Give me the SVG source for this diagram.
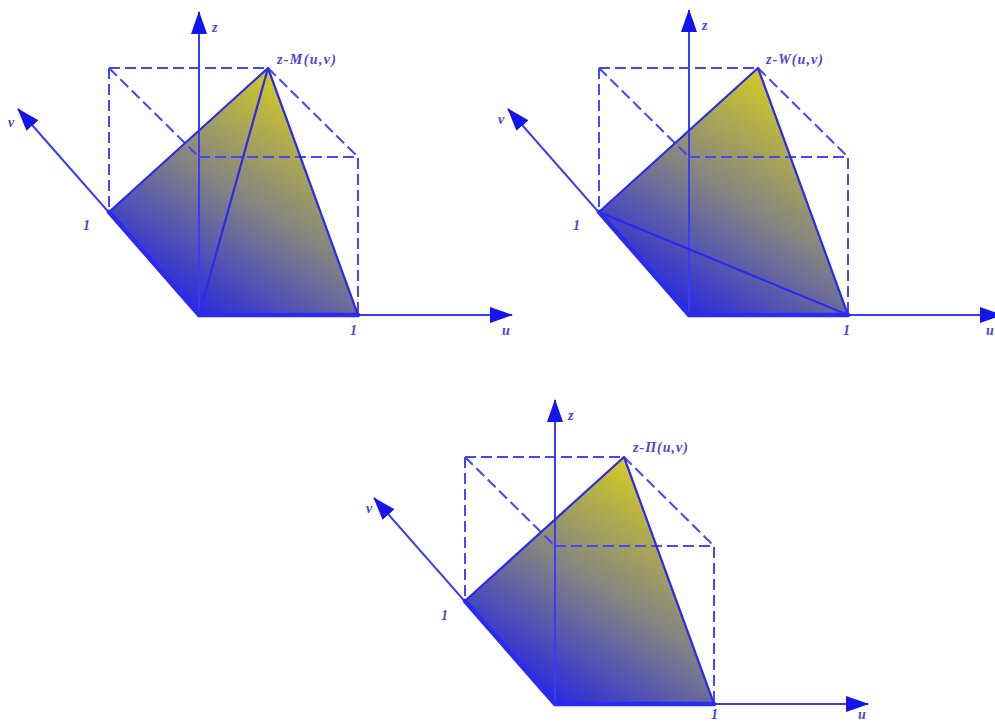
<svg xmlns="http://www.w3.org/2000/svg" width="995" height="722" viewBox="0 0 995 722">
<style>
.ax{stroke:#3a3af8;stroke-width:2;fill:none}
.dash{stroke:#4646ff;stroke-width:2;fill:none;stroke-dasharray:11 5}
.edge{stroke:#2a2af0;stroke-width:2.2;fill:none;stroke-linejoin:round}
.thick{stroke:#2a2af0;stroke-width:4.5;fill:none;stroke-linecap:round}
.face{fill:url(#grad);stroke:none}
.lbl{font-family:"Liberation Serif","Times New Roman",serif;font-style:italic;font-weight:bold;font-size:14px;fill:#4646d8}
</style>
<defs>
<linearGradient id="grad" x1="0.15" y1="1" x2="0.8" y2="0">
<stop offset="0" stop-color="#2222e0"/>
<stop offset="0.12" stop-color="#2e2ed8"/>
<stop offset="0.5" stop-color="#828284"/>
<stop offset="0.92" stop-color="#d2ca26"/>
</linearGradient>
<marker id="ah" markerUnits="userSpaceOnUse" viewBox="0 0 23 16" markerWidth="23" markerHeight="16" refX="22" refY="8" orient="auto">
<path d="M0,0 L23,8 L0,16 z" fill="#1414ee"/>
</marker>
</defs>

<g id="panel-M">
<polygon class="face" points="109,212 268,68 358,315 199,315"/>
<g id="cube-M">
<path class="dash" d="M109,68 H268 M109,68 V212 M109,68 L199,157 M268,68 L358,157 M199,157 H358 V315"/>
</g>
<g id="connectors-M">
<line class="ax" x1="199" y1="315" x2="199" y2="12" marker-end="url(#ah)"/>
<line class="ax" x1="199" y1="315" x2="512" y2="315" marker-end="url(#ah)"/>
<line class="ax" x1="199" y1="315" x2="18" y2="109" marker-end="url(#ah)"/>
<path class="edge" d="M109,212 L268,68 L358,315 M268,68 L199,315"/>
<path class="thick" d="M109,212 L199,315 L358,315"/>
</g>
<g id="labels-M">
<text class="lbl" x="212" y="32">z</text>
<text class="lbl" x="277" y="64" textLength="59" lengthAdjust="spacing">z-M(u,v)</text>
<text class="lbl" x="8" y="127">v</text>
<text class="lbl" x="83" y="230">1</text>
<text class="lbl" x="350" y="335">1</text>
<text class="lbl" x="502" y="335">u</text>
</g>
</g>

<g id="panel-W" transform="translate(490,0)">
<polygon class="face" points="109,212 268,68 358,315 199,315"/>
<g id="cube-W">
<path class="dash" d="M109,68 H268 M109,68 V212 M109,68 L199,157 M268,68 L358,157 M199,157 H358 V315"/>
</g>
<g id="connectors-W">
<line class="ax" x1="199" y1="315" x2="199" y2="10" marker-end="url(#ah)"/>
<line class="ax" x1="199" y1="315" x2="512" y2="315" marker-end="url(#ah)"/>
<line class="ax" x1="199" y1="315" x2="18" y2="109" marker-end="url(#ah)"/>
<path class="edge" d="M109,212 L268,68 L358,315 L109,212"/>
<path class="thick" d="M109,212 L199,315 L358,315"/>
</g>
<g id="labels-W">
<text class="lbl" x="212" y="30">z</text>
<text class="lbl" x="276" y="64" textLength="57" lengthAdjust="spacing">z-W(u,v)</text>
<text class="lbl" x="8" y="124">v</text>
<text class="lbl" x="83" y="230">1</text>
<text class="lbl" x="353" y="335">1</text>
<text class="lbl" x="496" y="335">u</text>
</g>
</g>

<g id="panel-P" transform="translate(356,389)">
<polygon class="face" points="109,212 268,68 358,315 199,315"/>
<g id="cube-P">
<path class="dash" d="M109,68 H268 M109,68 V212 M109,68 L199,157 M268,68 L358,157 M199,157 H358 V315"/>
</g>
<g id="connectors-P">
<line class="ax" x1="199" y1="315" x2="199" y2="11" marker-end="url(#ah)"/>
<line class="ax" x1="199" y1="315" x2="512" y2="315" marker-end="url(#ah)"/>
<line class="ax" x1="199" y1="315" x2="18" y2="109" marker-end="url(#ah)"/>
<path class="edge" d="M109,212 L268,68 L358,315"/>
<path class="thick" d="M109,212 L199,315 L358,315"/>
</g>
<g id="labels-P">
<text class="lbl" x="212" y="31">z</text>
<text class="lbl" x="277" y="63" textLength="55" lengthAdjust="spacing">z-Π(u,v)</text>
<text class="lbl" x="10" y="124">v</text>
<text class="lbl" x="85" y="231">1</text>
<text class="lbl" x="355" y="330">1</text>
<text class="lbl" x="502" y="330">u</text>
</g>
</g>
</svg>
